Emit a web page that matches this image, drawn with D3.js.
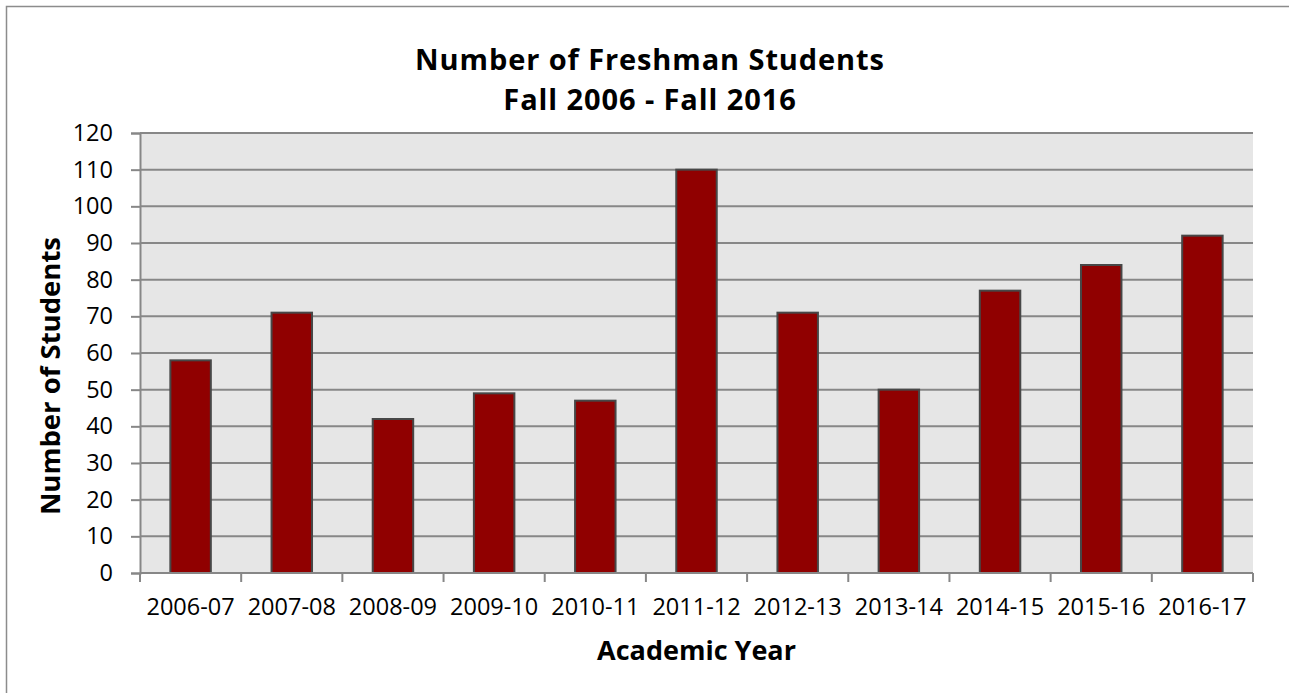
<!DOCTYPE html>
<html lang="en">
<head>
    <meta charset="UTF-8">
    <title>Number of Freshman Students</title>
    <style>
        html, body { margin: 0; padding: 0; background: #fff; overflow: hidden; }
        svg { display: block; }
        svg text { font-family: "Open Sans", "DejaVu Sans", sans-serif; fill: #000; }
    </style>
</head>
<body>
    <div id="chart"></div>

    <script src="https://d3js.org/d3.v7.min.js"></script>
    <script>
        // data
        const years = ["2006-07", "2007-08", "2008-09", "2009-10", "2010-11", "2011-12",
                       "2012-13", "2013-14", "2014-15", "2015-16", "2016-17"];
        const students = [58, 71, 42, 49, 47, 110, 71, 50, 77, 84, 92];
        const yTicks = [0, 10, 20, 30, 40, 50, 60, 70, 80, 90, 100, 110, 120];
        const titleLines = ["Number of Freshman Students", "Fall 2006 - Fall 2016"];

        const width = 1289, height = 693;
        const plot = { left: 140, right: 1253, top: 133, bottom: 573 };

        const svg = d3.select("#chart").append("svg")
            .attr("width", width)
            .attr("height", height);

        // chart frame: only the left and top edges are inside the picture
        svg.append("path")
            .attr("d", `M6.5,${height} V6.5 H${width}`)
            .attr("fill", "none")
            .attr("stroke", "#8c8c8c")
            .attr("stroke-width", 1.5);

        const x = d3.scaleBand()
            .domain(years)
            .range([plot.left, plot.right])
            .paddingInner(0.6)
            .paddingOuter(0.3);

        const xOuter = d3.scaleBand()
            .domain(years)
            .range([plot.left, plot.right]);

        const y = d3.scaleLinear()
            .domain([0, 120])
            .range([plot.bottom, plot.top]);

        // plot area background
        svg.append("rect")
            .attr("x", plot.left).attr("y", plot.top)
            .attr("width", plot.right - plot.left)
            .attr("height", plot.bottom - plot.top)
            .attr("fill", "#e6e6e6");

        // gridlines
        svg.append("g")
            .selectAll("line")
            .data(yTicks.filter(d => d > 0))
            .enter().append("line")
            .attr("x1", plot.left).attr("x2", plot.right)
            .attr("y1", d => y(d)).attr("y2", d => y(d))
            .attr("stroke", "#878787")
            .attr("stroke-width", 2);

        // bars
        svg.append("g")
            .selectAll("rect")
            .data(students)
            .enter().append("rect")
            .attr("x", (d, i) => x(years[i]))
            .attr("y", d => y(d))
            .attr("width", x.bandwidth())
            .attr("height", d => y(0) - y(d))
            .attr("fill", "#900000")
            .attr("stroke", "#474747")
            .attr("stroke-width", 2);

        // y axis
        const yAxis = svg.append("g")
            .attr("transform", `translate(${plot.left},0)`)
            .call(d3.axisLeft(y).tickValues(yTicks).tickSize(9).tickPadding(18).tickFormat(d3.format("d")));
        yAxis.select(".domain").attr("stroke", "#878787").attr("stroke-width", 2);
        yAxis.selectAll(".tick line").attr("stroke", "#878787").attr("stroke-width", 2);
        yAxis.selectAll("text").attr("font-size", 23.5).attr("font-family", null).attr("fill", "#000");

        // x axis: ticks sit on category boundaries
        const xAxis = svg.append("g")
            .attr("transform", `translate(0,${plot.bottom})`);
        xAxis.append("line")
            .attr("x1", plot.left).attr("x2", plot.right)
            .attr("stroke", "#878787").attr("stroke-width", 2);
        const bounds = years.map(d => xOuter(d)).concat([plot.right]);
        xAxis.selectAll(".xtick")
            .data(bounds)
            .enter().append("line")
            .attr("class", "xtick")
            .attr("x1", d => d).attr("x2", d => d)
            .attr("y1", 0).attr("y2", 9)
            .attr("stroke", "#878787").attr("stroke-width", 2);
        xAxis.selectAll(".xlabel")
            .data(years)
            .enter().append("text")
            .attr("class", "xlabel")
            .attr("x", d => xOuter(d) + xOuter.bandwidth() / 2)
            .attr("y", 42)
            .attr("text-anchor", "middle")
            .attr("font-size", 23.5)
            .text(d => d);

        // two-line title
        svg.append("g")
            .selectAll("text")
            .data(titleLines)
            .enter().append("text")
            .attr("x", 650)
            .attr("y", (d, i) => 70 + i * 40)
            .attr("text-anchor", "middle")
            .attr("font-size", 29)
            .attr("font-weight", "bold")
            .attr("letter-spacing", 0.9)
            .text(d => d);

        svg.append("text")
            .attr("x", (plot.left + plot.right) / 2)
            .attr("y", 660)
            .attr("text-anchor", "middle")
            .attr("font-size", 27)
            .attr("font-weight", "bold")
            .text("Academic Year");

        svg.append("text")
            .attr("transform", "translate(60,376) rotate(-90)")
            .attr("text-anchor", "middle")
            .attr("font-size", 27.5)
            .attr("font-weight", "bold")
            .text("Number of Students");
    </script>
</body>
</html>
